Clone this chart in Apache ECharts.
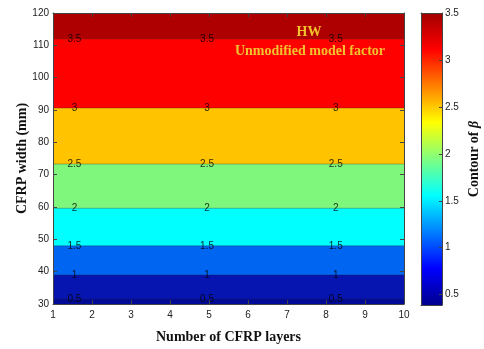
<!DOCTYPE html>
<html>
<head>
<meta charset="utf-8">
<script src="https://cdn.jsdelivr.net/npm/echarts@6/dist/echarts.min.js"></script>
<style>
  html, body { margin: 0; padding: 0; background: #fff; }
  #chart { width: 484px; height: 349px; }
</style>
</head>
<body>
<div id="chart"></div>
<script>
// Reliability index β over CFRP width, for 1–10 CFRP layers (HW, unmodified model factor)
const layerRange = [1, 10];
const widthRange = [30, 120];
const xTickValues = [1, 2, 3, 4, 5, 6, 7, 8, 9, 10];
const yTickValues = [30, 40, 50, 60, 70, 80, 90, 100, 110, 120];

// contour levels of β and the CFRP width (mm) where each level lies
const levels = [0.5, 1, 1.5, 2, 2.5, 3, 3.5];
const levelWidth = [31.5, 39, 48, 59.6, 73.3, 90.6, 112];

// filled bands between consecutive levels: upper edge (mm) and fill colour
const bandTop = [31.5, 39, 48, 59.6, 73.3, 90.6, 112, 120];
const bandColors = ['#000A96', '#0614B0', '#0066F2', '#00FFFF', '#7EF77C', '#FFC300', '#FF0000', '#AE0000'];

// layer positions where the contour values are written
const labelLayers = [1.55, 4.95, 8.25];

// colour bar
const betaMin = 0.39;
const betaMax = 3.5;
const colorbarTicks = [0.5, 1, 1.5, 2, 2.5, 3, 3.5];
const jetStops = [
  [0, '#00008F'], [0.125, '#0000FF'], [0.375, '#00FFFF'],
  [0.625, '#FFFF00'], [0.875, '#FF0000'], [1, '#A00000']
];

const chart = echarts.init(document.getElementById('chart'));

const tickFont = { fontFamily: 'Liberation Sans', fontSize: 10, color: '#222' };
const serifBold = { fontFamily: 'Liberation Serif', fontWeight: 'bold', fontSize: 14, color: '#111' };

const series = [];

// bands, painted from the top down so each lower band covers the one above it
for (let i = bandTop.length - 1; i >= 0; i--) {
  series.push({
    type: 'line',
    xAxisIndex: 0, yAxisIndex: 0,
    data: [[layerRange[0], bandTop[i]], [layerRange[1], bandTop[i]]],
    showSymbol: false,
    silent: true,
    lineStyle: { width: 0 },
    areaStyle: { color: bandColors[i], opacity: 1, origin: 'start' },
    animation: false
  });
}

// contour lines
levels.forEach((lv, i) => {
  series.push({
    type: 'line',
    xAxisIndex: 0, yAxisIndex: 0,
    data: [[layerRange[0], levelWidth[i]], [layerRange[1], levelWidth[i]]],
    showSymbol: false,
    silent: true,
    lineStyle: { width: 0.8, color: 'rgba(40,40,40,0.4)' },
    animation: false
  });
});

// contour value labels
const labelData = [];
levels.forEach((lv, i) => {
  labelLayers.forEach(x => labelData.push([x, levelWidth[i], lv]));
});
series.push({
  type: 'scatter',
  xAxisIndex: 0, yAxisIndex: 0,
  data: labelData,
  symbolSize: 1,
  itemStyle: { color: 'rgba(0,0,0,0)' },
  silent: true,
  label: {
    show: true,
    position: 'inside',
    formatter: p => String(p.value[2]),
    fontFamily: 'Liberation Sans',
    fontSize: 10,
    color: '#000'
  },
  animation: false,
  z: 5
});

// colour bar: transparent base up to betaMin, gradient above it
series.push({
  type: 'bar', xAxisIndex: 1, yAxisIndex: 1, stack: 'cb',
  data: [betaMin], barWidth: '100%', silent: true,
  itemStyle: { color: 'rgba(0,0,0,0)' }, animation: false
});
series.push({
  type: 'bar', xAxisIndex: 1, yAxisIndex: 1, stack: 'cb',
  data: [betaMax - betaMin], barWidth: '100%', silent: true,
  itemStyle: {
    color: new echarts.graphic.LinearGradient(0, 1, 0, 0,
      jetStops.map(s => ({ offset: s[0], color: s[1] })))
  },
  animation: false
});

const boxLine = { show: true, lineStyle: { color: '#444', width: 1 } };
const inTick = { show: true, inside: true, length: 4, lineStyle: { color: '#444' } };

chart.setOption({
  animation: false,
  backgroundColor: '#fff',
  grid: [
    { left: 53, top: 13, width: 351, height: 291 },
    { left: 421, top: 13, width: 21, height: 292 }
  ],
  xAxis: [
    {
      type: 'value', gridIndex: 0, min: layerRange[0], max: layerRange[1], interval: 1,
      position: 'bottom', z: 10,
      axisLine: boxLine, axisTick: inTick, splitLine: { show: false },
      axisLabel: Object.assign({ margin: 6 }, tickFont),
      name: 'Number of CFRP layers', nameLocation: 'middle', nameGap: 26,
      nameMoveOverlap: false,
      nameTextStyle: serifBold
    },
    {
      type: 'category', gridIndex: 1, data: ['β'], position: 'bottom', z: 10,
      axisLine: boxLine, axisTick: { show: false }, axisLabel: { show: false }
    },
    {
      type: 'value', gridIndex: 0, min: layerRange[0], max: layerRange[1], interval: 1,
      position: 'top', z: 10,
      axisLine: boxLine, axisTick: inTick, axisLabel: { show: false }, splitLine: { show: false }
    },
    {
      type: 'category', gridIndex: 1, data: ['β'], position: 'top', z: 10,
      axisLine: boxLine, axisTick: { show: false }, axisLabel: { show: false }
    }
  ],
  yAxis: [
    {
      type: 'value', gridIndex: 0, min: widthRange[0], max: widthRange[1], interval: 10,
      position: 'left', z: 10,
      axisLine: boxLine, axisTick: inTick, splitLine: { show: false },
      axisLabel: Object.assign({ margin: 4 }, tickFont),
      name: 'CFRP width (mm)', nameLocation: 'middle', nameGap: 24, nameRotate: 90,
      nameMoveOverlap: false,
      nameTextStyle: serifBold
    },
    {
      type: 'value', gridIndex: 1, min: betaMin, max: betaMax,
      position: 'right', z: 10,
      axisLine: boxLine,
      axisTick: { show: true, inside: true, length: 3, customValues: colorbarTicks, lineStyle: { color: '#444' } },
      splitLine: { show: false },
      axisLabel: Object.assign({ margin: 3, customValues: colorbarTicks, formatter: v => String(v) }, tickFont)
    },
    {
      type: 'value', gridIndex: 1, min: betaMin, max: betaMax,
      position: 'left', z: 10,
      axisLine: boxLine, axisTick: { show: false }, axisLabel: { show: false }, splitLine: { show: false }
    },
    {
      type: 'value', gridIndex: 0, min: widthRange[0], max: widthRange[1], interval: 10,
      position: 'right', z: 10,
      axisLine: boxLine, axisTick: inTick, axisLabel: { show: false }, splitLine: { show: false }
    }
  ],
  graphic: [
    {
      type: 'text', x: 309, y: 32, z: 20,
      style: {
        text: 'HW', fill: '#F2C12E', align: 'center', verticalAlign: 'middle',
        font: 'bold 14px "Liberation Serif"'
      }
    },
    {
      type: 'text', x: 310, y: 51, z: 20,
      style: {
        text: 'Unmodified model factor', fill: '#F2C12E', align: 'center', verticalAlign: 'middle',
        font: 'bold 14px "Liberation Serif"'
      }
    },
    {
      type: 'text', x: 474, y: 159, rotation: Math.PI / 2, z: 20,
      style: {
        text: '{a|Contour of }{b|β}',
        align: 'center', verticalAlign: 'middle',
        rich: {
          a: { fontFamily: 'Liberation Serif', fontWeight: 'bold', fontSize: 14, fill: '#111' },
          b: { fontFamily: 'Liberation Serif', fontWeight: 'bold', fontStyle: 'italic', fontSize: 14, fill: '#111' }
        }
      }
    }
  ],
  series: series
});
</script>
</body>
</html>
